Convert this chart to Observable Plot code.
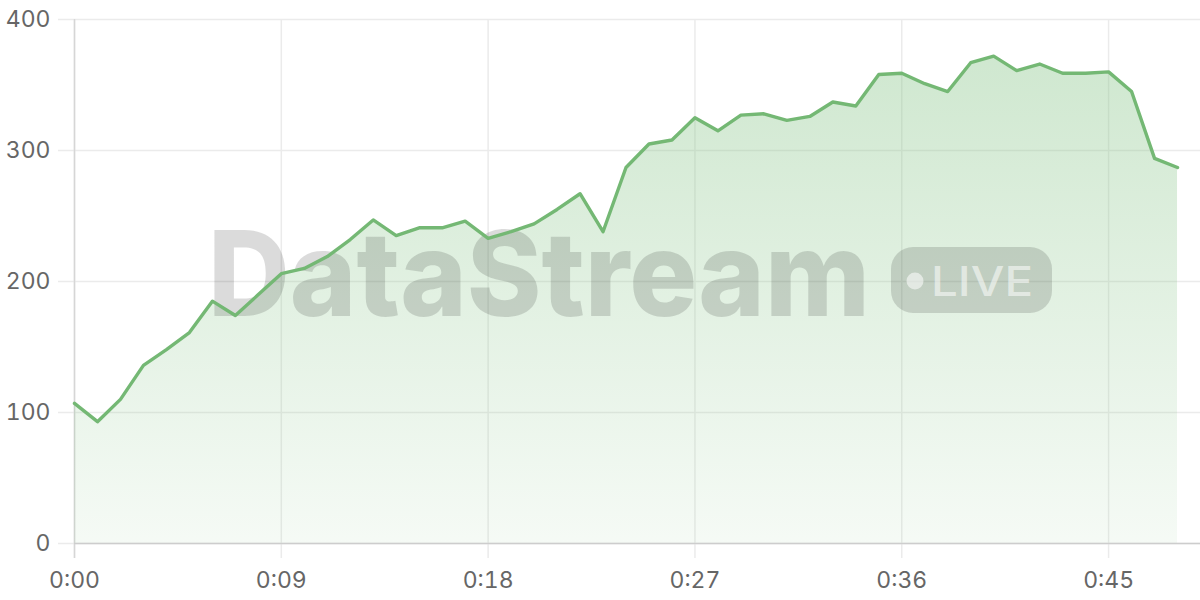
<!DOCTYPE html>
<html>
<head>
<meta charset="utf-8">
<script src="https://cdn.jsdelivr.net/npm/d3@7"></script>
<script src="https://cdn.jsdelivr.net/npm/@observablehq/plot@0.6"></script>
<style>
  html, body { margin: 0; padding: 0; background: #fff; }
  #chart { width: 1200px; height: 600px; }
</style>
</head>
<body>
<div id="chart"></div>
<script>
// ---- data ----
const minutes = [0,1,2,3,4,5,6,7,8,9,10,11,12,13,14,15,16,17,18,19,20,21,22,23,24,25,26,27,28,29,30,31,32,33,34,35,36,37,38,39,40,41,42,43,44,45,46,47,48];
const values = [107,93,110,136,148,161,185,174,190,206,
                210,219,232,247,235,241,241,246,233,238,
                244,255,267,238,287,305,308,325,315,327,
                328,323,326,337,334,358,359,351,345,367,
                372,361,366,359,359,360,345,294,287];
const xTicks = [0, 9, 18, 27, 36, 45];
const xTickLabels = ["0:00", "0:09", "0:18", "0:27", "0:36", "0:45"];
const yTicks = [0, 100, 200, 300, 400];
const watermarkText = "DataStream";
const badgeText = "LIVE";

const data = minutes.map((m, i) => ({m, v: values[i]}));
const NS = "http://www.w3.org/2000/svg";
function el(tag, attrs) {
  const e = document.createElementNS(NS, tag);
  for (const k in attrs) e.setAttribute(k, attrs[k]);
  return e;
}

// gradient defs
const gradientDefs = (index, scales) => {
  const defs = el("defs", {});
  const g = el("linearGradient", {id: "areaGrad", gradientUnits: "userSpaceOnUse",
    x1: 0, x2: 0, y1: scales.y(400), y2: scales.y(0)});
  g.appendChild(el("stop", {offset: "0%", "stop-color": "#86c487", "stop-opacity": 0.42}));
  g.appendChild(el("stop", {offset: "100%", "stop-color": "#86c487", "stop-opacity": 0.08}));
  defs.appendChild(g);
  return defs;
};

// watermark
const watermark = () => {
  const g = el("g", {"pointer-events": "none", "text-anchor": "start"});
  const t = el("text", {x: 208, y: 316, "text-anchor": "start",
    "font-family": "Inter, 'Open Sans', sans-serif",
    "font-weight": 800, "font-size": 118, fill: "#000", "fill-opacity": 0.14,
    textLength: 662, lengthAdjust: "spacingAndGlyphs"});
  t.textContent = watermarkText;
  g.appendChild(t);
  g.appendChild(el("rect", {x: 891, y: 247, width: 161, height: 66, rx: 22, ry: 22,
    fill: "#000", "fill-opacity": 0.14}));
  g.appendChild(el("circle", {cx: 915, cy: 281, r: 8.5, fill: "#fff", "fill-opacity": 0.55}));
  const l = el("text", {x: 931, y: 296, "text-anchor": "start",
    "font-family": "Inter, 'Open Sans', sans-serif",
    "font-weight": 500, "font-size": 41, fill: "#fff", "fill-opacity": 0.55,
    textLength: 102, lengthAdjust: "spacingAndGlyphs"});
  l.textContent = badgeText;
  g.appendChild(l);
  return g;
};

const chart = Plot.plot({
  width: 1200,
  height: 600,
  marginLeft: 74,
  marginRight: 0,
  marginTop: 19,
  marginBottom: 57,
  style: {fontFamily: "Inter, 'Open Sans', sans-serif", fontSize: "23px", color: "#666", background: "#fff"},
  x: {domain: [0, 49], axis: null, label: null},
  y: {domain: [0, 400], axis: null, label: null},
  marks: [
    gradientDefs,
    Plot.ruleY(yTicks, {y: d => d, stroke: "#ebebeb", strokeWidth: 1.5, insetLeft: -16}),
    Plot.ruleX(xTicks, {x: d => d, stroke: "#ebebeb", strokeWidth: 1.5, insetBottom: -15}),
    Plot.ruleX([0], {x: d => d, stroke: "#d6d6d6", strokeWidth: 1.5, insetBottom: -15}),
    Plot.areaY(data, {x: "m", y: "v", fill: "url(#areaGrad)"}),
    watermark,
    Plot.ruleY([0], {y: d => d, stroke: "#cdcdcd", strokeWidth: 1.5}),
    Plot.lineY(data, {x: "m", y: "v", stroke: "#74b874", strokeWidth: 3.4, strokeLinejoin: "round", strokeLinecap: "round"}),
    Plot.axisY({ticks: yTicks, tickSize: 0, tickPadding: 24, fontSize: 23, fill: "#666", label: null}),
    Plot.axisX({ticks: xTicks, tickSize: 0, tickPadding: 28, fontSize: 23, fill: "#666", label: null,
      tickFormat: d => xTickLabels[xTicks.indexOf(d)]})
  ]
});
document.getElementById("chart").appendChild(chart);
</script>
</body>
</html>
